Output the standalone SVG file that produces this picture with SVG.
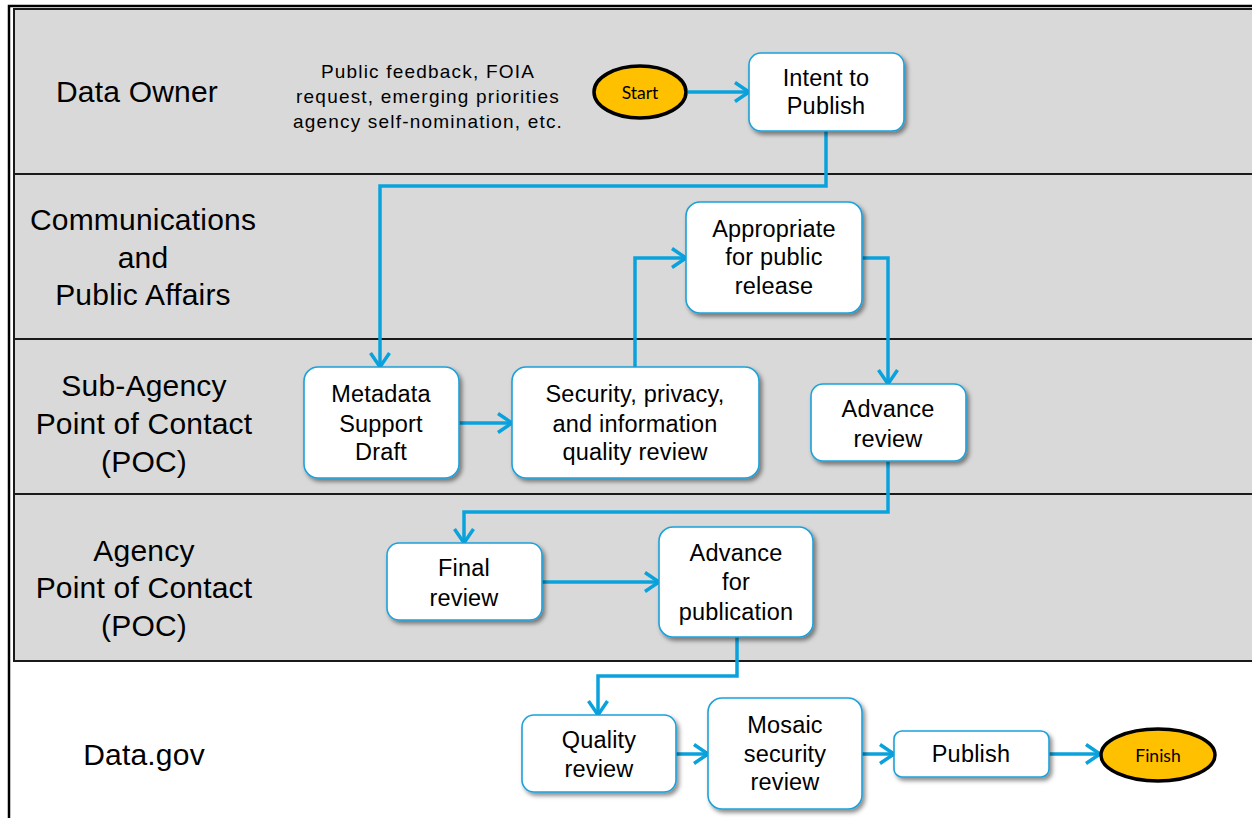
<svg xmlns="http://www.w3.org/2000/svg" width="1252" height="818" viewBox="0 0 1252 818">
<style>
.lane{fill:#D9D9D9;stroke:#1a1a1a;stroke-width:2}
.lbl{font-family:"Liberation Sans",Arial,sans-serif;font-size:30px;fill:#000;text-anchor:middle;letter-spacing:0.2px}
.box{fill:#fff;stroke:#1BA1DB;stroke-width:1.6;filter:url(#sh)}
.t{font-family:"Liberation Sans",Arial,sans-serif;font-size:23.5px;fill:#000;text-anchor:middle;letter-spacing:0.2px}
.small{font-family:"Liberation Sans",Arial,sans-serif;font-size:19px;fill:#000;text-anchor:middle;letter-spacing:1.2px}
.term{fill:#FFC000;stroke:#000;stroke-width:3.5}
.tt{font-family:Lato,"Open Sans",sans-serif;font-size:17.5px;fill:#000;text-anchor:middle}
.c{fill:none;stroke:#0AA2DC;stroke-width:3.5;marker-end:url(#ah)}
</style>
<defs>
<filter id="sh" x="-10%" y="-10%" width="130%" height="130%">
<feDropShadow dx="2.5" dy="3" stdDeviation="2" flood-color="#000" flood-opacity="0.45"/>
</filter>
<marker id="ah" markerUnits="userSpaceOnUse" markerWidth="20" markerHeight="24" viewBox="0 0 20 24" refX="16" refY="12" orient="auto">
<path d="M2,2.5 L16,12 L2,21.5" fill="none" stroke="#0AA2DC" stroke-width="3.5"/>
</marker>
</defs>

<g id="frame">
<rect x="0" y="0" width="1252" height="818" fill="#fff"/>
<rect class="lane" x="14" y="9" width="1250" height="165"/>
<rect class="lane" x="14" y="174" width="1250" height="165"/>
<rect class="lane" x="14" y="339" width="1250" height="155"/>
<rect class="lane" x="14" y="494" width="1250" height="167"/>
<path d="M9,820 V6 H1254" fill="none" stroke="#000" stroke-width="2.5"/>
</g>

<g id="lane-labels">
<text class="lbl" x="137" y="102">Data Owner</text>
<text class="lbl" x="143" y="230">Communications</text>
<text class="lbl" x="143" y="268">and</text>
<text class="lbl" x="143" y="305">Public Affairs</text>
<text class="lbl" x="144" y="396">Sub-Agency</text>
<text class="lbl" x="144" y="434">Point of Contact</text>
<text class="lbl" x="144" y="472">(POC)</text>
<text class="lbl" x="144" y="561">Agency</text>
<text class="lbl" x="144" y="598">Point of Contact</text>
<text class="lbl" x="144" y="636">(POC)</text>
<text class="lbl" x="144" y="765">Data.gov</text>
</g>

<g id="note">
<text class="small" x="428" y="78">Public feedback,  FOIA</text>
<text class="small" x="428" y="103">request, emerging priorities</text>
<text class="small" x="428" y="128">agency self-nomination,  etc.</text>
</g>

<g id="connectors">
<path class="c" d="M688,92 H749"/>
<path class="c" d="M826,131 V186 H380 V367"/>
<path class="c" d="M459,423 H512"/>
<path class="c" d="M635,367 V258 H686"/>
<path class="c" d="M862,258 H888 V384"/>
<path class="c" d="M888,461 V512 H464 V543"/>
<path class="c" d="M542,582 H659"/>
<path class="c" d="M737,637 V676 H598 V715"/>
<path class="c" d="M676,754 H708"/>
<path class="c" d="M862,754 H894"/>
<path class="c" d="M1049,754 H1100"/>
</g>

<g id="start">
<ellipse class="term" cx="640" cy="92" rx="46" ry="26"/>
<text class="tt" x="640" y="99">Start</text>
</g>

<g id="intent">
<rect class="box" x="749" y="53" width="155" height="78" rx="12"/>
<text class="t" x="826" y="86">Intent to</text>
<text class="t" x="826" y="114">Publish</text>
</g>

<g id="metadata">
<rect class="box" x="304" y="367" width="155" height="111" rx="14"/>
<text class="t" x="381" y="402">Metadata</text>
<text class="t" x="381" y="432">Support</text>
<text class="t" x="381" y="460">Draft</text>
</g>

<g id="security">
<rect class="box" x="512" y="367" width="247" height="111" rx="14"/>
<text class="t" x="635" y="402">Security, privacy,</text>
<text class="t" x="635" y="432">and information</text>
<text class="t" x="635" y="460">quality review</text>
</g>

<g id="appropriate">
<rect class="box" x="686" y="202" width="176" height="111" rx="14"/>
<text class="t" x="774" y="237">Appropriate</text>
<text class="t" x="774" y="265">for public</text>
<text class="t" x="774" y="294">release</text>
</g>

<g id="advance-review">
<rect class="box" x="811" y="384" width="155" height="77" rx="12"/>
<text class="t" x="888" y="417">Advance</text>
<text class="t" x="888" y="447">review</text>
</g>

<g id="final-review">
<rect class="box" x="387" y="543" width="155" height="77" rx="12"/>
<text class="t" x="464" y="576">Final</text>
<text class="t" x="464" y="606">review</text>
</g>

<g id="advance-publication">
<rect class="box" x="659" y="527" width="154" height="110" rx="14"/>
<text class="t" x="736" y="561">Advance</text>
<text class="t" x="736" y="590">for</text>
<text class="t" x="736" y="620">publication</text>
</g>

<g id="quality-review">
<rect class="box" x="522" y="715" width="154" height="77" rx="12"/>
<text class="t" x="599" y="748">Quality</text>
<text class="t" x="599" y="777">review</text>
</g>

<g id="mosaic">
<rect class="box" x="708" y="698" width="154" height="111" rx="14"/>
<text class="t" x="785" y="733">Mosaic</text>
<text class="t" x="785" y="762">security</text>
<text class="t" x="785" y="790">review</text>
</g>

<g id="publish">
<rect class="box" x="894" y="731" width="155" height="46" rx="8"/>
<text class="t" x="971" y="762">Publish</text>
</g>

<g id="finish">
<ellipse class="term" cx="1158" cy="755" rx="57" ry="26"/>
<text class="tt" x="1158" y="762">Finish</text>
</g>
</svg>
